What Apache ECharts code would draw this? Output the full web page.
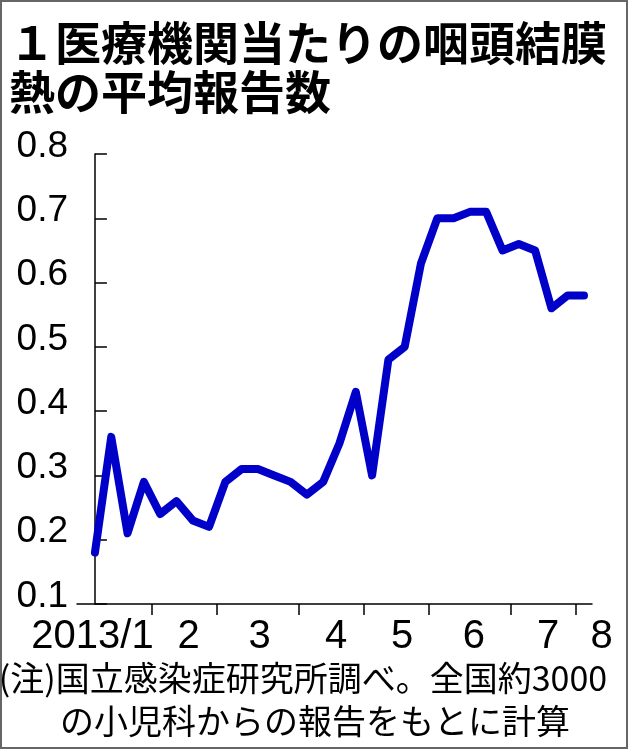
<!DOCTYPE html>
<html>
<head>
<meta charset="utf-8">
<script src="https://cdn.jsdelivr.net/npm/echarts@6/dist/echarts.min.js"></script>
<style>
html,body{margin:0;padding:0;background:#fff;}
#chart{width:630px;height:750px;}
</style>
</head>
<body>
<div id="chart"></div>
<script>
// ---- data ----
var titleText = '１医療機関当たりの咽頭結膜\n熱の平均報告数';
var noteLines = ['(注)国立感染症研究所調べ。全国約3000', 'の小児科からの報告をもとに計算'];
// weekly average reports per institution (week index 0 = first week shown, Jan 2013)
var weekValues = [0.18, 0.36, 0.21, 0.29, 0.24, 0.26, 0.23, 0.22, 0.29, 0.31,
                  0.31, 0.30, 0.29, 0.27, 0.29, 0.35, 0.43, 0.30, 0.48, 0.50,
                  0.63, 0.70, 0.70, 0.71, 0.71, 0.65, 0.66, 0.65, 0.56, 0.58, 0.58];
var monthLabels = ['2013/1', '2', '3', '4', '5', '6', '7', '8'];
// month boundaries and label anchors in week units
var monthTickWeeks = [3.5, 7.5, 12.5, 16.5, 20.5, 25.5, 29.5];
var monthLabelWeeks = [-0.15, 5.75, 10.1, 14.8, 18.85, 23.25, 27.8, 30.49];

var xMin = -1.1, xMax = 30.49;
var seriesData = weekValues.map(function (v, i) { return [i, v]; });
var labelMap = {};
monthLabelWeeks.forEach(function (w, i) { labelMap[w.toFixed(3)] = monthLabels[i]; });

var xFont = '"Liberation Sans", Arial, sans-serif';
var chart = echarts.init(document.getElementById('chart'), null, {renderer: 'canvas'});
chart.setOption({
  animation: false,
  backgroundColor: '#fff',
  title: [{
    text: titleText,
    left: 4,
    top: 13,
    textStyle: {fontFamily: '"Noto Sans CJK JP"', fontWeight: 'bold', fontSize: 46, lineHeight: 49, color: '#000'}
  }],
  graphic: [{
    type: 'rect',
    shape: {x: 1, y: 1, width: 626, height: 747},
    style: {fill: null, stroke: '#666', lineWidth: 2},
    silent: true
  }, {
    type: 'text',
    x: 303,
    y: 661,
    silent: true,
    style: {text: noteLines[0], textAlign: 'center', textVerticalAlign: 'top', font: 'normal 34px "Noto Sans CJK JP"', fill: '#000'}
  }, {
    type: 'text',
    x: 315,
    y: 704,
    silent: true,
    style: {text: noteLines[1], textAlign: 'center', textVerticalAlign: 'top', font: 'normal 34px "Noto Sans CJK JP"', fill: '#000'}
  }],
  grid: {left: 77, right: 38, top: 154, bottom: 146, containLabel: false},
  xAxis: {
    type: 'value',
    min: xMin,
    max: xMax,
    splitLine: {show: false},
    axisLine: {show: true, lineStyle: {color: '#000', width: 1.5}},
    axisTick: {show: true, inside: false, length: 11, customValues: monthTickWeeks, lineStyle: {color: '#000', width: 1.5}},
    axisLabel: {
      show: true,
      customValues: monthLabelWeeks,
      margin: 13,
      fontFamily: xFont,
      fontSize: 40,
      color: '#000',
      formatter: function (v) {
        var t = labelMap[v.toFixed(3)] || '';
        if (t === '8') return '{r|' + t + '}';
        return t;
      },
      rich: {r: {fontFamily: xFont, fontSize: 40, color: '#000', padding: [0, 0, 0, 19]}}
    }
  },
  yAxis: {
    type: 'value',
    min: 0.1,
    max: 0.8,
    interval: 0.1,
    splitLine: {show: false},
    axisLine: {show: true, lineStyle: {color: '#000', width: 1.5}},
    axisTick: {show: true, inside: true, length: 12, lineStyle: {color: '#000', width: 1.5}},
    axisLabel: {
      show: true,
      margin: 9,
      fontFamily: '"Liberation Sans", Arial, sans-serif',
      fontSize: 37,
      color: '#000',
      verticalAlign: 'bottom',
      lineHeight: 15,
      formatter: function (v) { return v.toFixed(1); },
      showMinLabel: true,
      showMaxLabel: true
    }
  },
  series: [{
    type: 'line',
    data: seriesData,
    showSymbol: false,
    symbol: 'none',
    lineStyle: {color: '#0000c8', width: 8, cap: 'round', join: 'round'},
    z: 5
  }]
});
</script>
</body>
</html>
